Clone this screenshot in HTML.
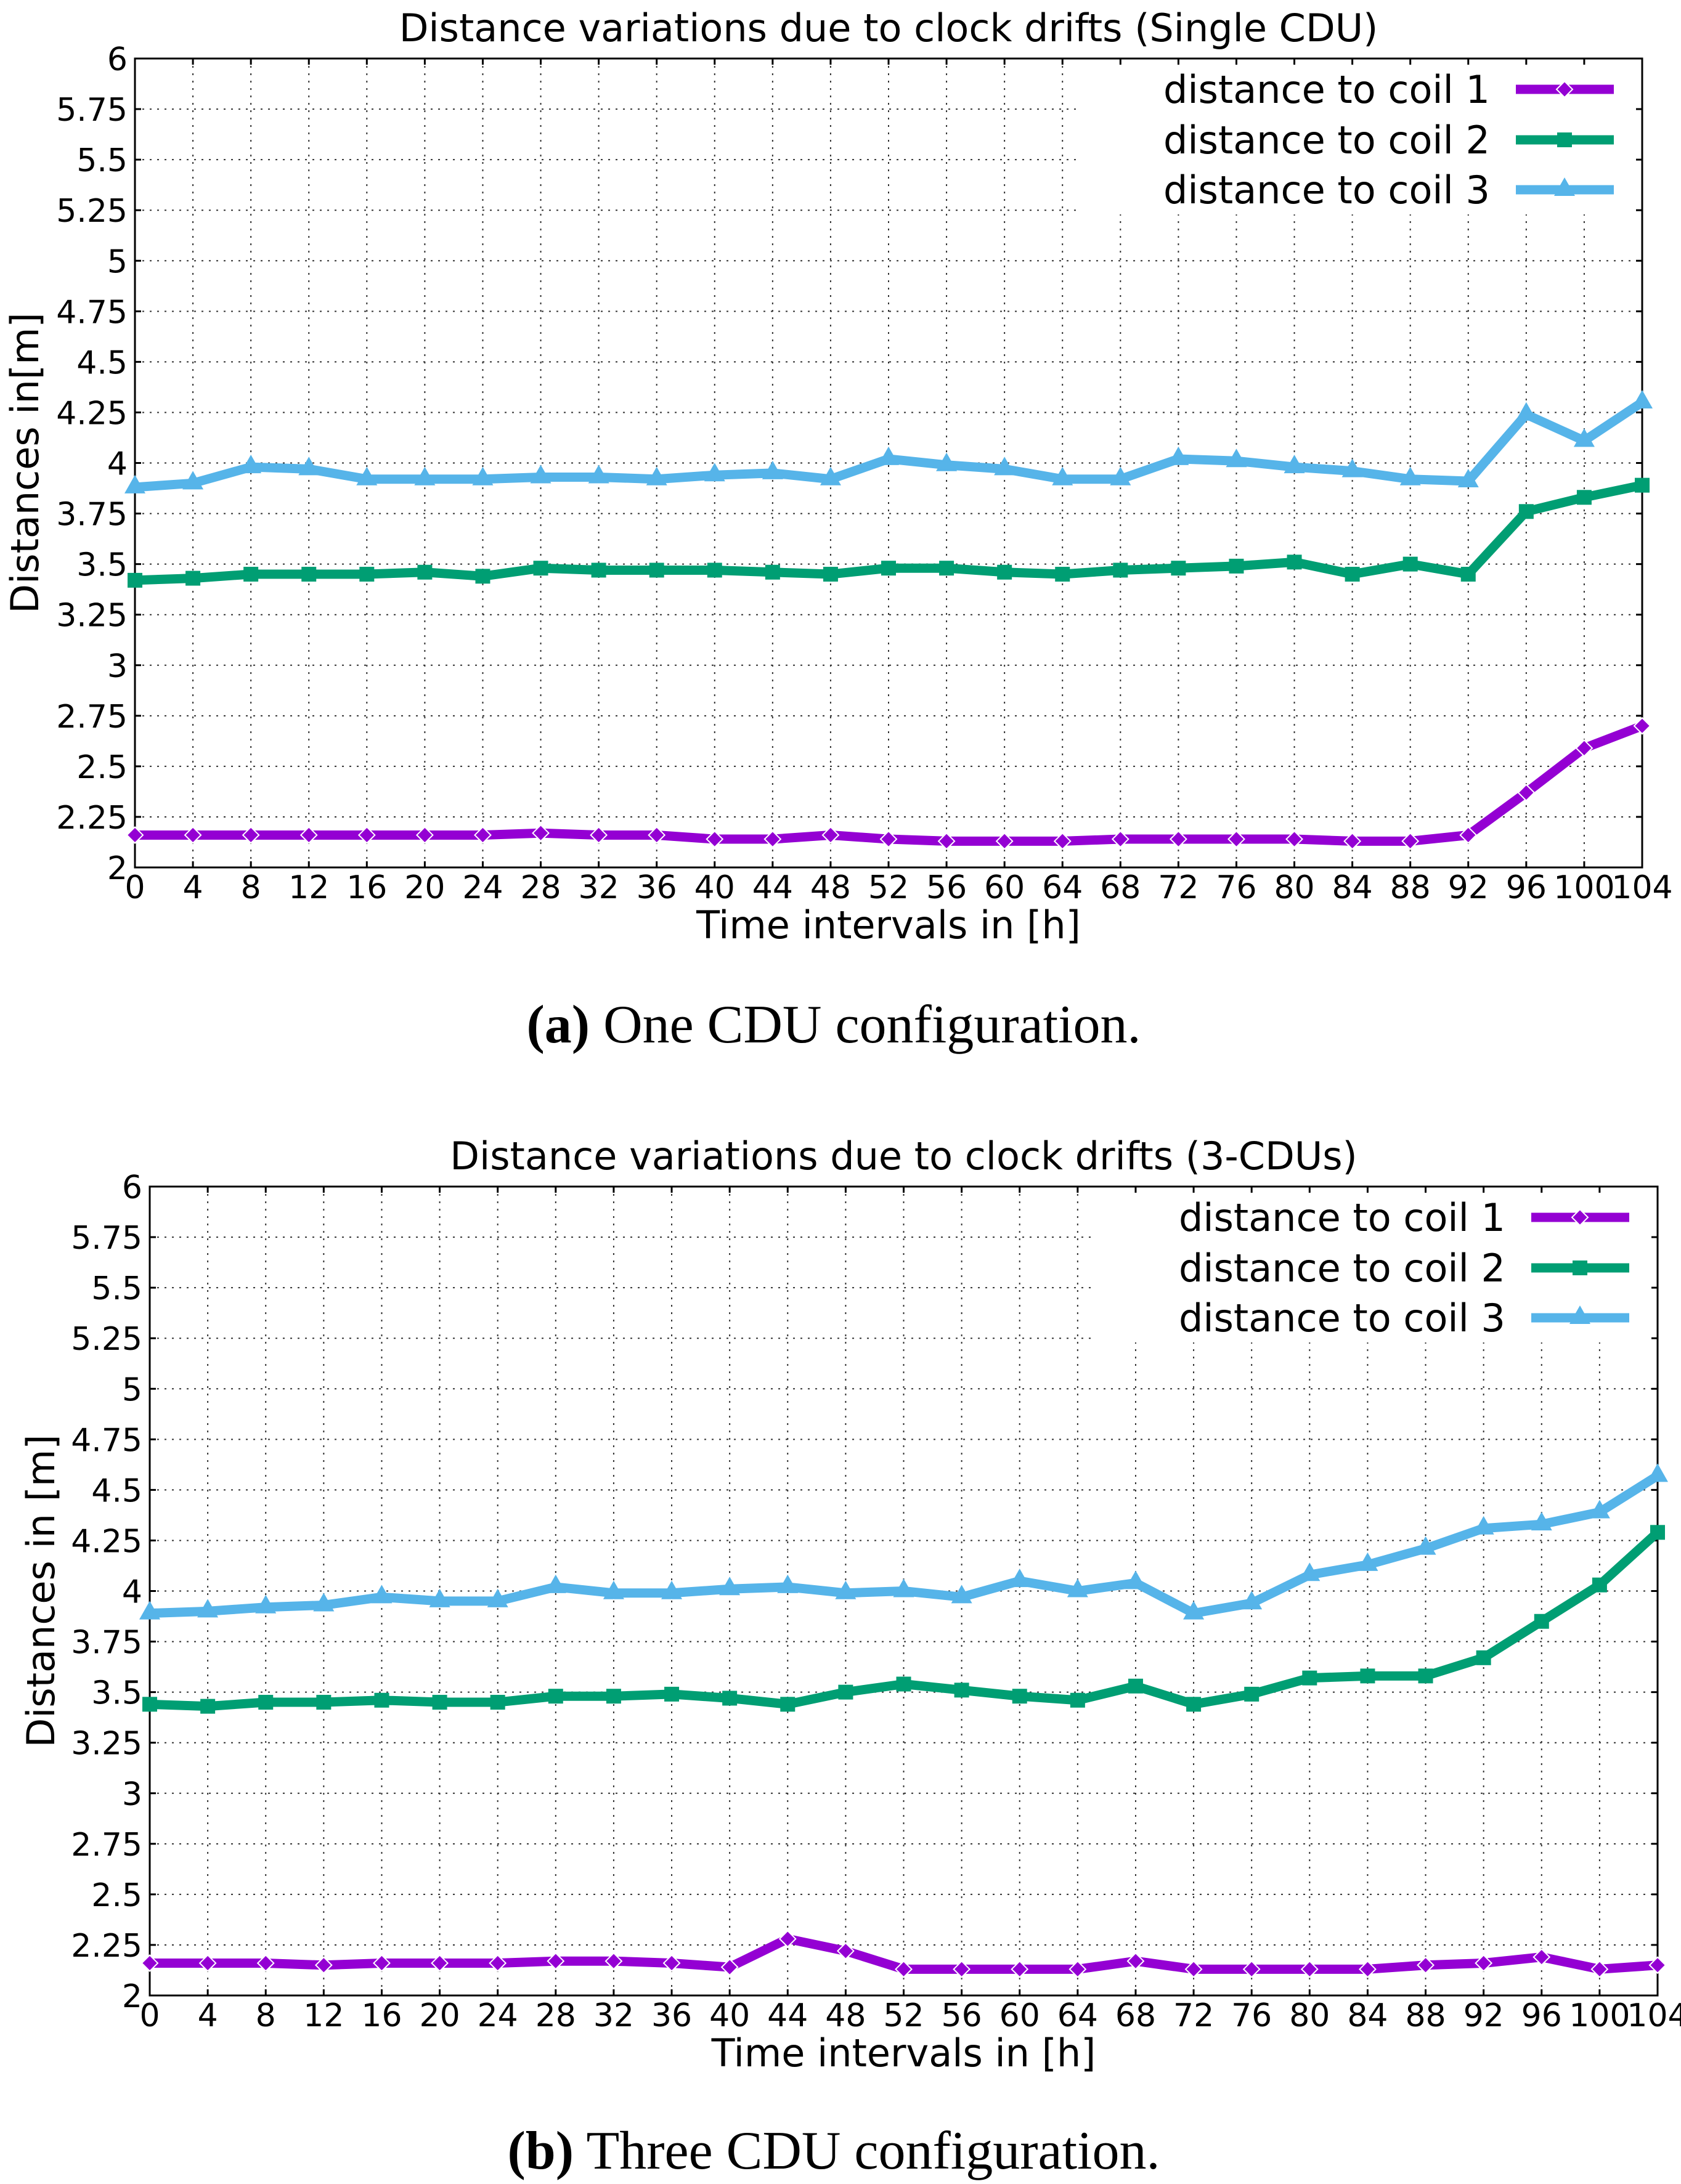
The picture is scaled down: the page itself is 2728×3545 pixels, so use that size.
<!DOCTYPE html>
<html><head><meta charset="utf-8"><style>
html,body{margin:0;padding:0;background:#fff;}
svg{display:block;}
.cap{font-family:"Liberation Serif",serif;font-size:88px;}
</style></head><body>
<svg id="fig" width="2728" height="3545" viewBox="0 0 2728 3545" xmlns="http://www.w3.org/2000/svg">
<rect width="2728" height="3545" fill="#fff"/>
<text class="cap" x="1353" y="1692" text-anchor="middle"><tspan font-weight="bold">(a)</tspan> One CDU configuration.</text>
<text class="cap" x="1353" y="3520" text-anchor="middle"><tspan font-weight="bold">(b)</tspan> Three CDU configuration.</text>
</svg>
<script>
const hours = [0,4,8,12,16,20,24,28,32,36,40,44,48,52,56,60,64,68,72,76,80,84,88,92,96,100,104];
const yTicks = [2,2.25,2.5,2.75,3,3.25,3.5,3.75,4,4.25,4.5,4.75,5,5.25,5.5,5.75,6];
const yTickLabels = ["2","2.25","2.5","2.75","3","3.25","3.5","3.75","4","4.25","4.5","4.75","5","5.25","5.5","5.75","6"];
const seriesNames = ["distance to coil 1","distance to coil 2","distance to coil 3"];
const a_coil1 = [2.16,2.16,2.16,2.16,2.16,2.16,2.16,2.17,2.16,2.16,2.14,2.14,2.16,2.14,2.13,2.13,2.13,2.14,2.14,2.14,2.14,2.13,2.13,2.16,2.37,2.59,2.70];
const a_coil2 = [3.42,3.43,3.45,3.45,3.45,3.46,3.44,3.48,3.47,3.47,3.47,3.46,3.45,3.48,3.48,3.46,3.45,3.47,3.48,3.49,3.51,3.45,3.50,3.45,3.76,3.83,3.89];
const a_coil3 = [3.88,3.90,3.98,3.97,3.92,3.92,3.92,3.93,3.93,3.92,3.94,3.95,3.92,4.02,3.99,3.97,3.92,3.92,4.02,4.01,3.98,3.96,3.92,3.91,4.24,4.11,4.30];
const b_coil1 = [2.16,2.16,2.16,2.15,2.16,2.16,2.16,2.17,2.17,2.16,2.14,2.28,2.22,2.13,2.13,2.13,2.13,2.17,2.13,2.13,2.13,2.13,2.15,2.16,2.19,2.13,2.15];
const b_coil2 = [3.44,3.43,3.45,3.45,3.46,3.45,3.45,3.48,3.48,3.49,3.47,3.44,3.50,3.54,3.51,3.48,3.46,3.53,3.44,3.49,3.57,3.58,3.58,3.67,3.85,4.03,4.29];
const b_coil3 = [3.89,3.90,3.92,3.93,3.97,3.95,3.95,4.02,3.99,3.99,4.01,4.02,3.99,4.00,3.97,4.05,4.00,4.04,3.89,3.94,4.08,4.13,4.21,4.31,4.33,4.39,4.57];

const NS = "http://www.w3.org/2000/svg";
const fig = document.getElementById('fig');
const colors = ["#9400d3","#009e73","#56b4e9"];
const markers = ["diamond","square","triangle"];
function mk(tag, attrs, parent){const e=document.createElementNS(NS,tag);for(const k in attrs)e.setAttribute(k,attrs[k]);(parent||fig).appendChild(e);return e;}
function marker(g,type,x,y,c){
  let m;
  if(type==="diamond"){m=mk('polygon',{points:`${x},${y-13} ${x+13},${y} ${x},${y+13} ${x-13},${y}`,fill:c,stroke:'#fff','stroke-width':2},g);}
  else if(type==="square"){m=mk('rect',{x:x-12,y:y-12,width:24,height:24,fill:c},g);}
  else {m=mk('polygon',{points:`${x},${y-20} ${x+17},${y+10} ${x-17},${y+10}`,fill:c},g);}
  return m;
}
function chart(cfg){
  const {L,R,T,B,title,ytitle,data,legX,legY,prefix,ytx,legBox}=cfg;
  const g=mk('g',{});
  
  
  const xs=h=>L+(h-hours[0])/(hours[hours.length-1]-hours[0])*(R-L);
  const ys=v=>B-(v-2)/4*(B-T);
  hours.forEach(h=>{ if(h>0&&h<104){const l=mk('line',{x1:xs(h),x2:xs(h),y1:T,y2:B,stroke:'#333','stroke-width':2,'stroke-dasharray':'3,9'},g);
    
    }});
  yTicks.forEach(v=>{ if(v>2&&v<6){const l=mk('line',{x1:L,x2:R,y1:ys(v),y2:ys(v),stroke:'#333','stroke-width':2,'stroke-dasharray':'3,9'},g);
    
    }});
  const lb=mk('rect',{x:legBox[0],y:T+3,width:R-3-legBox[0],height:legBox[1]-T},g);
  lb.setAttribute('fill','#fff');
  
  
  hours.forEach(h=>{mk('line',{x1:xs(h),x2:xs(h),y1:B,y2:B-10,stroke:'#000','stroke-width':3},g);mk('line',{x1:xs(h),x2:xs(h),y1:T,y2:T+10,stroke:'#000','stroke-width':3},g);
    const t=mk('text',{x:xs(h),y:B+50,'text-anchor':'middle','font-family':'DejaVu Sans, Liberation Sans, sans-serif','font-size':52},g);t.textContent=String(h);
    
    });
  yTicks.forEach((v,i)=>{mk('line',{x1:L,x2:L+10,y1:ys(v),y2:ys(v),stroke:'#000','stroke-width':3},g);mk('line',{x1:R,x2:R-10,y1:ys(v),y2:ys(v),stroke:'#000','stroke-width':3},g);
    const t=mk('text',{x:L-12,y:ys(v)+19,'text-anchor':'end','font-family':'DejaVu Sans, Liberation Sans, sans-serif','font-size':52},g);t.textContent=yTickLabels[i];
    
    });
  const fr=mk('rect',{x:L,y:T,width:R-L,height:B-T,fill:'none',stroke:'#000','stroke-width':3},g);
  
  
  data.forEach((arr,si)=>{
    const sg=mk('g',{},g);
    
    
    const pts=arr.map((v,i)=>xs(hours[i])+','+ys(v)).join(' ');
    mk('polyline',{points:pts,fill:'none',stroke:colors[si],'stroke-width':15,'stroke-linejoin':'round'},sg);
    arr.forEach((v,i)=>{const m=marker(sg,markers[si],xs(hours[i]),ys(v),colors[si]);
      
      });
    const ly=legY[si];
    const le=mk('g',{},g);
    
    
    const t=mk('text',{x:legX-42,y:ly+22,'text-anchor':'end','font-family':'DejaVu Sans, Liberation Sans, sans-serif','font-size':62},le);t.textContent=seriesNames[si];
    mk('line',{x1:legX,x2:legX+159,y1:ly,y2:ly,stroke:colors[si],'stroke-width':15},le);
    marker(le,markers[si],legX+79,ly,colors[si]);
  });
  const tt=mk('text',{x:(L+R)/2,y:T-28,'text-anchor':'middle','font-family':'DejaVu Sans, Liberation Sans, sans-serif','font-size':62},g);tt.textContent=title;
  
  
  const xt=mk('text',{x:(L+R)/2,y:B+115,'text-anchor':'middle','font-family':'DejaVu Sans, Liberation Sans, sans-serif','font-size':62},g);xt.textContent='Time intervals in [h]';
  
  
  const yt=mk('text',{x:0,y:0,'text-anchor':'middle','font-family':'DejaVu Sans, Liberation Sans, sans-serif','font-size':62,transform:`translate(${ytx},${(T+B)/2}) rotate(-90)`},g);yt.textContent=ytitle;
  
  
}
chart({L:219,R:2665,T:95,B:1408,title:'Distance variations due to clock drifts (Single CDU)',ytitle:'Distances in[m]',data:[a_coil1,a_coil2,a_coil3],legX:2460,legY:[145,227,308],prefix:'single-cdu',ytx:62,legBox:[1750,345]});
chart({L:243,R:2690,T:1926,B:3239,title:'Distance variations due to clock drifts (3-CDUs)',ytitle:'Distances in [m]',data:[b_coil1,b_coil2,b_coil3],legX:2485,legY:[1976,2058,2139],prefix:'three-cdu',ytx:88,legBox:[1775,2176]});
</script>
</body></html>
